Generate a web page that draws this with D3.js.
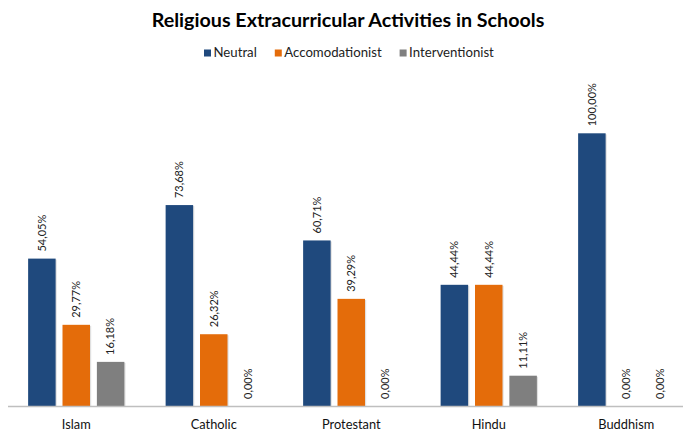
<!DOCTYPE html>
<html>
<head>
<meta charset="utf-8">
<script src="https://cdn.jsdelivr.net/npm/d3@7"></script>
<style>
  body { margin: 0; background: #fff; }
  svg text { font-family: Lato, "Open Sans", sans-serif; fill: #000; }
</style>
</head>
<body>
<div id="chart"></div>
<script>
// chart data
const categories = ["Islam", "Catholic", "Protestant", "Hindu", "Buddhism"]
const seriesNames = ["Neutral", "Accomodationist", "Interventionist"]
const neutral = [54.05, 73.68, 60.71, 44.44, 100.00]
const accomodationist = [29.77, 26.32, 39.29, 44.44, 0.00]
const interventionist = [16.18, 0.00, 0.00, 11.11, 0.00]
const colors = ["#1f497d", "#e46c0a", "#7f7f7f"]

const W = 683, H = 432
const dims = {left: 7.5, right: 695, base: 406, top: 133.3}

// build rows for grouped bars
const values = [neutral, accomodationist, interventionist]
const data = categories.map((c, i) => ({
  cat: c,
  vals: seriesNames.map((s, j) => ({key: s, value: values[j][i], color: colors[j]}))
}))

const locale = d3.formatLocale({decimal: ",", thousands: ".", grouping: [3]})
const fmt = v => locale.format(".2f")(v) + "%"

const svg = d3.select("#chart").append("svg")
  .attr("width", W)
  .attr("height", H)

const x0 = d3.scaleBand()
  .domain(categories)
  .range([dims.left, dims.right])
  .paddingInner(0.3)
  .paddingOuter(0.15)

const x1 = d3.scaleBand()
  .domain(seriesNames)
  .range([0, x0.bandwidth()])
  .paddingInner(0.2)

const y = d3.scaleLinear()
  .domain([0, 100])
  .range([dims.base, dims.top])

//title
svg.append("text")
  .attr("x", 348)
  .attr("y", 27)
  .attr("text-anchor", "middle")
  .style("font-size", "19.7px")
  .style("font-weight", "bold")
  .text("Religious Extracurricular Activities in Schools")

//legend
const legend = svg.append("g").attr("class", "legend")
let lx = 204
seriesNames.forEach((s, i) => {
  legend.append("rect")
    .attr("x", lx).attr("y", 49.5)
    .attr("width", 7).attr("height", 7)
    .attr("fill", colors[i])
  const t = legend.append("text")
    .attr("x", lx + 9.5).attr("y", 56.5)
    .style("font-size", "13.2px")
    .style("fill", "#222")
    .text(s)
  lx += 9.5 + t.node().getComputedTextLength() + 18
})

//bars
const groups = svg.append("g").selectAll("g")
  .data(data)
  .join("g")
  .attr("transform", d => "translate(" + x0(d.cat) + ",0)")

// soft shadow on the right side of bars
groups.selectAll("rect.shadow")
  .data(d => d.vals)
  .join("rect")
  .attr("class", "shadow")
  .attr("x", d => x1(d.key) + 1.2)
  .attr("y", d => y(d.value) + 1)
  .attr("width", x1.bandwidth())
  .attr("height", d => dims.base - y(d.value) - 1)
  .attr("fill", "#000")
  .attr("opacity", d => d.value > 0 ? 0.12 : 0)

groups.selectAll("rect.bar")
  .data(d => d.vals)
  .join("rect")
  .attr("class", "bar")
  .attr("x", d => x1(d.key))
  .attr("y", d => y(d.value))
  .attr("width", x1.bandwidth())
  .attr("height", d => dims.base - y(d.value))
  .attr("fill", d => d.color)

// rotated value labels
groups.selectAll("text.lbl")
  .data(d => d.vals)
  .join("text")
  .attr("class", "lbl")
  .attr("transform", d => "translate(" + (x1(d.key) + x1.bandwidth() / 2) + "," + (y(d.value) - 7) + ") rotate(-90)")
  .attr("dy", "0.35em")
  .style("font-size", "11px")
  .style("fill", "#222")
  .text(d => fmt(d.value))

//x axis
const xAxis = svg.append("g")
  .attr("transform", "translate(0," + dims.base + ")")
  .call(d3.axisBottom(x0).tickSize(0).tickPadding(14))

xAxis.select(".domain").attr("stroke", "#bfbfbf").attr("stroke-width", 1.3)
xAxis.selectAll("text")
  .style("font-family", "Lato, 'Open Sans', sans-serif")
  .style("font-size", "12.8px")
  .style("fill", "#111")
</script>
</body>
</html>
